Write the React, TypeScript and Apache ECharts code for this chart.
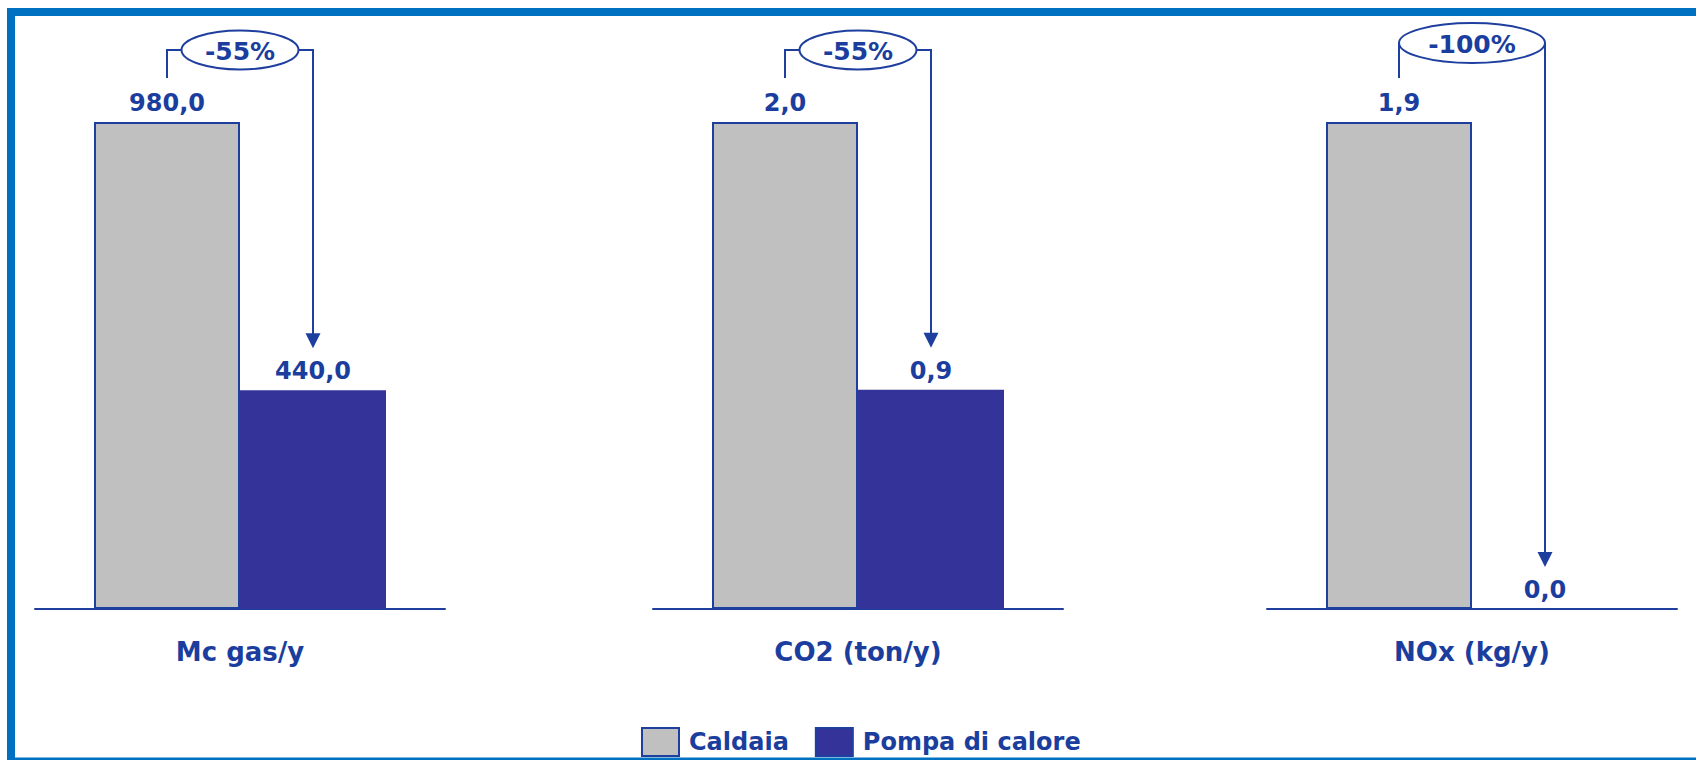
import React, { useEffect, useRef } from "react";
import * as echarts from "echarts";

// Annual consumption and emissions: gas boiler vs heat pump
const CATEGORIES = ["Mc gas/y", "CO2 (ton/y)", "NOx (kg/y)"];
const CALDAIA = [980.0, 2.0, 1.9];
const POMPA = [440.0, 0.9, 0.0];
const SERIES_NAMES = ["Caldaia", "Pompa di calore"];

const FONT = "'DejaVu Sans', Verdana, sans-serif";
const TEXT_BLUE = "#1b3e9e";
const LINE_BLUE = "#1f3f9f";
const GREY = "#c0c0c0";
const NAVY = "#333399";
const FRAME = "#0070c0";

const BAR_WIDTH = 146;
const GRID_LEFTS = [35, 653, 1267];
const GRID_WIDTH = 410;
const GRID_TOP = 122;
const GRID_HEIGHT = 487;

// bracket geometry for each percentage callout
const CALLOUT_LAYOUT = [
  { rise: 72, rx: 58.5, ry: 19.5 },
  { rise: 72, rx: 58.5, ry: 19.5 },
  { rise: 79, rx: 73, ry: 20 },
];

const fmtValue = (v: number) => v.toFixed(1).replace(".", ",");
const fmtChange = (from: number, to: number) =>
  `${Math.round(((to - from) / from) * 100)}%`;

export default function App() {
  const ref = useRef<HTMLDivElement>(null);

  useEffect(() => {
    if (!ref.current) return;
    const chart = echarts.init(ref.current, null, { renderer: "svg" });

    const grids = GRID_LEFTS.map((left) => ({
      left,
      width: GRID_WIDTH,
      top: GRID_TOP,
      height: GRID_HEIGHT,
      containLabel: false,
    }));

    const xAxes = CATEGORIES.map((name, i) => ({
      type: "category" as const,
      gridIndex: i,
      data: [name],
      axisLine: { show: true, lineStyle: { color: LINE_BLUE, width: 2 } },
      axisTick: { show: false },
      axisLabel: {
        margin: 30,
        color: TEXT_BLUE,
        fontFamily: FONT,
        fontWeight: "bold" as const,
        fontSize: 26,
      },
    }));

    const yAxes = CALDAIA.map((max, i) => ({
      type: "value" as const,
      gridIndex: i,
      min: 0,
      max,
      show: false,
      splitLine: { show: false },
    }));

    const valueLabel = {
      show: true,
      position: "top" as const,
      distance: 7,
      color: TEXT_BLUE,
      fontFamily: FONT,
      fontWeight: "bold" as const,
      fontSize: 24,
      formatter: (p: any) => fmtValue(p.value),
    };

    const series: any[] = [];
    CATEGORIES.forEach((_, i) => {
      series.push({
        type: "bar",
        name: SERIES_NAMES[0],
        xAxisIndex: i,
        yAxisIndex: i,
        data: [CALDAIA[i]],
        barWidth: BAR_WIDTH,
        barGap: "0%",
        itemStyle: { color: GREY, borderColor: LINE_BLUE, borderWidth: 2 },
        label: valueLabel,
      });
      series.push({
        type: "bar",
        name: SERIES_NAMES[1],
        xAxisIndex: i,
        yAxisIndex: i,
        data: [POMPA[i]],
        barWidth: BAR_WIDTH,
        barGap: "0%",
        itemStyle: { color: NAVY },
        label: valueLabel,
      });
    });

    chart.setOption({
      animation: false,
      backgroundColor: "#ffffff",
      grid: grids,
      xAxis: xAxes,
      yAxis: yAxes,
      series,
      legend: {
        left: 636,
        top: 722,
        itemWidth: 37,
        itemHeight: 28,
        itemGap: 26,
        icon: "rect",
        selectedMode: false,
        data: [
          {
            name: SERIES_NAMES[0],
            itemStyle: { color: GREY, borderColor: LINE_BLUE, borderWidth: 2 },
          },
          {
            name: SERIES_NAMES[1],
            itemStyle: { color: NAVY, borderColor: LINE_BLUE, borderWidth: 2 },
          },
        ],
        textStyle: {
          color: TEXT_BLUE,
          fontFamily: FONT,
          fontWeight: "bold",
          fontSize: 24,
          padding: [0, 0, 0, 5],
        },
      },
    });

    // percentage callouts placed from the axes' own pixel mapping
    const graphics: any[] = [];
    CATEGORIES.forEach((name, i) => {
      const cx = chart.convertToPixel({ xAxisIndex: i }, name) as number;
      const grayX = cx - BAR_WIDTH / 2;
      const navyX = cx + BAR_WIDTH / 2;
      const grayTop = chart.convertToPixel({ yAxisIndex: i }, CALDAIA[i]) as number;
      const navyTop = chart.convertToPixel({ yAxisIndex: i }, POMPA[i]) as number;
      const lay = CALLOUT_LAYOUT[i];
      const by = grayTop - lay.rise;
      const tip = navyTop - 42;
      const stroke = { stroke: LINE_BLUE, lineWidth: 2, fill: "none" };

      graphics.push({
        type: "polyline",
        silent: true,
        shape: { points: [[grayX, grayTop - 44], [grayX, by], [cx - lay.rx, by]] },
        style: stroke,
      });
      graphics.push({
        type: "polyline",
        silent: true,
        shape: { points: [[cx + lay.rx, by], [navyX, by], [navyX, tip - 10]] },
        style: stroke,
      });
      graphics.push({
        type: "polygon",
        silent: true,
        shape: { points: [[navyX - 7.5, tip - 15], [navyX + 7.5, tip - 15], [navyX, tip]] },
        style: { fill: LINE_BLUE },
      });
      graphics.push({
        type: "ellipse",
        silent: true,
        shape: { cx, cy: by, rx: lay.rx, ry: lay.ry },
        style: { stroke: LINE_BLUE, lineWidth: 2, fill: "#ffffff" },
      });
      graphics.push({
        type: "text",
        silent: true,
        x: cx,
        y: by + 1,
        style: {
          text: fmtChange(CALDAIA[i], POMPA[i]),
          align: "center",
          verticalAlign: "middle",
          fill: TEXT_BLUE,
          font: `bold 25px ${FONT}`,
        },
      });
    });

    // outer frame (cut off on the right)
    graphics.push(
      { type: "rect", silent: true, shape: { x: 7, y: 8, width: 1689, height: 8 }, style: { fill: FRAME } },
      { type: "rect", silent: true, shape: { x: 7, y: 8, width: 8, height: 752 }, style: { fill: FRAME } },
      { type: "rect", silent: true, shape: { x: 7, y: 757.5, width: 1689, height: 3 }, style: { fill: FRAME } }
    );

    chart.setOption({ graphic: graphics });

    return () => chart.dispose();
  }, []);

  return (
    <div
      style={{
        position: "fixed",
        left: 0,
        top: 0,
        width: 1696,
        height: 760,
        overflow: "hidden",
        background: "#ffffff",
      }}
    >
      <div ref={ref} style={{ width: 1696, height: 760 }} />
    </div>
  );
}
